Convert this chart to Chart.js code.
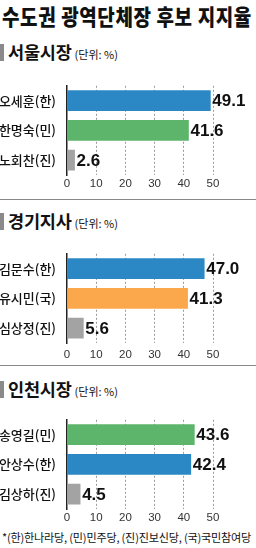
<!DOCTYPE html>
<html>
<head>
<meta charset="utf-8">
<script src="https://cdn.jsdelivr.net/npm/chart.js@4"></script>
<style>
  body { margin: 0; background: #fff; }
  #wrap { position: relative; width: 256px; height: 548px; overflow: hidden; font-family: "Noto Sans CJK KR", sans-serif; color: #111; }
  .title { position: absolute; left: 2px; top: 2px; font-size: 19px; font-weight: 900; line-height: 28px; white-space: nowrap; letter-spacing: 0.6px; transform: scaleY(1.15); transform-origin: left center; }
  .head { position: absolute; left: 0; white-space: nowrap; line-height: 20px; }
  .head .bar { display: inline-block; width: 4px; height: 17px; background: #8a8a8a; vertical-align: -2px; margin-right: 4px; }
  .head b { font-size: 17.5px; letter-spacing: -0.2px; }
  .head span { font-size: 11px; margin-left: 3px; }
  .sep { position: absolute; left: 0; width: 256px; height: 1px; background: #888; }
  .note { position: absolute; left: 2px; top: 529px; font-size: 11.1px; line-height: 16px; white-space: nowrap; letter-spacing: -0.2px; }
  canvas { position: absolute; left: 0; }
</style>
</head>
<body>
<div id="wrap">
  <div class="title">수도권 광역단체장 후보 지지율</div>

  <div class="head" style="top:42px"><i class="bar"></i><b>서울시장</b><span>(단위: %)</span></div>
  <canvas id="seoul" width="256" height="120" style="top:75px"></canvas>
  <div class="sep" style="top:199px"></div>

  <div class="head" style="top:211px"><i class="bar"></i><b>경기지사</b><span>(단위: %)</span></div>
  <canvas id="gyeonggi" width="256" height="120" style="top:243px"></canvas>
  <div class="sep" style="top:365px"></div>

  <div class="head" style="top:379px"><i class="bar"></i><b>인천시장</b><span>(단위: %)</span></div>
  <canvas id="incheon" width="256" height="120" style="top:409px"></canvas>

  <div class="note">*(한)한나라당, (민)민주당, (진)진보신당, (국)국민참여당</div>
</div>

<script>
// 서울시장
const seoulLabels = ['오세훈(한)', '한명숙(민)', '노회찬(진)'];
const seoulValues = [49.1, 41.6, 2.6];
// 경기지사
const gyeonggiLabels = ['김문수(한)', '유시민(국)', '심상정(진)'];
const gyeonggiValues = [47.0, 41.3, 5.6];
// 인천시장
const incheonLabels = ['송영길(민)', '안상수(한)', '김상하(진)'];
const incheonValues = [43.6, 42.4, 4.5];
// x axis
const axisMin = 0;
const axisMax = 50;
const axisStep = 10;

const partyColors = { '한': '#2b88c5', '민': '#5cb56a', '국': '#fba74b', '진': '#a3a3a3' };

// draws the number at the end of each bar
const valueLabels = {
  id: 'valueLabels',
  afterDatasetsDraw(chart) {
    const ctx = chart.ctx;
    const values = chart.data.datasets[0].data;
    ctx.save();
    ctx.font = 'bold 17px "Liberation Sans", Arial, sans-serif';
    ctx.fillStyle = '#111';
    ctx.textBaseline = 'middle';
    chart.getDatasetMeta(0).data.forEach((bar, i) => {
      ctx.fillText(values[i].toFixed(1), bar.x + 2, bar.y + 1);
    });
    ctx.restore();
  }
};

function makeChart(id, labels, values, tickPad) {
  const colors = labels.map(l => partyColors[l.charAt(l.length - 2)]);
  return new Chart(document.getElementById(id), {
    type: 'bar',
    data: {
      labels: labels,
      datasets: [{ data: values, backgroundColor: colors, barThickness: 20 }]
    },
    options: {
      indexAxis: 'y',
      responsive: false,
      animation: false,
      devicePixelRatio: 1,
      layout: { padding: { top: 0, right: 43, left: 0, bottom: 0 } },
      plugins: { legend: { display: false }, tooltip: { enabled: false } },
      scales: {
        x: {
          min: axisMin,
          max: axisMax,
          ticks: { stepSize: axisStep, color: '#333', padding: tickPad,
                   font: { size: 11.5, family: '"Liberation Sans", Arial, sans-serif' } },
          grid: { color: c => c.tick && c.tick.value === 0 ? 'rgba(0,0,0,0)' : '#9a9a9a',
                  drawTicks: false, lineWidth: 1 },
          border: { display: false, dash: [2, 2] },
          afterFit: s => { s.height = 20; }
        },
        y: {
          ticks: { color: '#111', padding: 3,
                   font: { size: 13, weight: '500', family: '"Noto Sans CJK KR", sans-serif' } },
          grid: { display: false },
          border: { display: true, color: '#222', width: 1.5 },
          afterFit: s => { s.width = 67; }
        }
      }
    },
    plugins: [valueLabels]
  });
}

makeChart('seoul', seoulLabels, seoulValues, 2);
makeChart('gyeonggi', gyeonggiLabels, gyeonggiValues, 5);
makeChart('incheon', incheonLabels, incheonValues, 2);
</script>
</body>
</html>
